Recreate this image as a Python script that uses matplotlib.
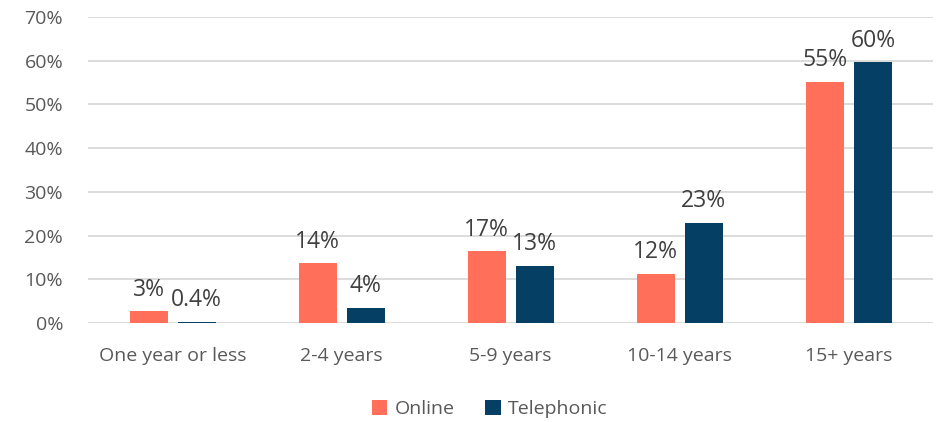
import matplotlib
matplotlib.use("Agg")
import matplotlib.pyplot as plt
import numpy as np

categories = ["One year or less", "2-4 years", "5-9 years", "10-14 years", "15+ years"]
online = [2.7, 13.7, 16.4, 11.3, 55.1]
telephonic = [0.3, 3.5, 13.1, 22.9, 59.6]
online_labels = ["3%", "14%", "17%", "12%", "55%"]
tele_labels = ["0.4%", "4%", "13%", "23%", "60%"]
yticks = [0, 10, 20, 30, 40, 50, 60, 70]

C_ON = "#FF6F59"
C_TE = "#053F63"
TXT = "#595959"

plt.rcParams['font.family'] = ['Open Sans', 'DejaVu Sans']

fig = plt.figure(figsize=(9.38, 4.22), dpi=100)
ax = fig.add_axes([0.094, 0.234, 0.901, 0.726])

x = np.arange(len(categories))
w = 0.225
off = 0.1425
b1 = ax.bar(x - off, online, w, color=C_ON, label="Online", zorder=3)
b2 = ax.bar(x + off, telephonic, w, color=C_TE, label="Telephonic", zorder=3)

for bars, labs in ((b1, online_labels), (b2, tele_labels)):
    for rect, lab in zip(bars, labs):
        ax.annotate(lab, (rect.get_x() + rect.get_width() / 2, rect.get_height()),
                    xytext=(0, 7), textcoords="offset points", ha="center", va="bottom",
                    fontsize=16.5, color="#404040")

ax.set_xlim(-0.5, len(categories) - 0.5)
ax.set_ylim(0, 70)
ax.set_yticks(yticks)
ax.set_yticklabels([f"{v}%" for v in yticks], fontsize=14, color=TXT)
ax.set_xticks(x)
ax.set_xticklabels(categories, fontsize=14, color=TXT)
ax.tick_params(axis="both", length=0)
ax.tick_params(axis="x", pad=17)
ax.tick_params(axis="y", pad=18)
ax.grid(axis="y", color="#D9D9D9", linewidth=1.3, zorder=0)
for s in ax.spines.values():
    s.set_visible(False)

fig.legend(handles=[b1, b2], labels=["Online", "Telephonic"], loc="center",
           bbox_to_anchor=(0.522, 0.031), ncol=2, frameon=False, fontsize=14,
           handlelength=0.8, handleheight=0.8, handletextpad=0.35, columnspacing=1.6,
           labelcolor=TXT)

fig.savefig("out.png", dpi=100)
